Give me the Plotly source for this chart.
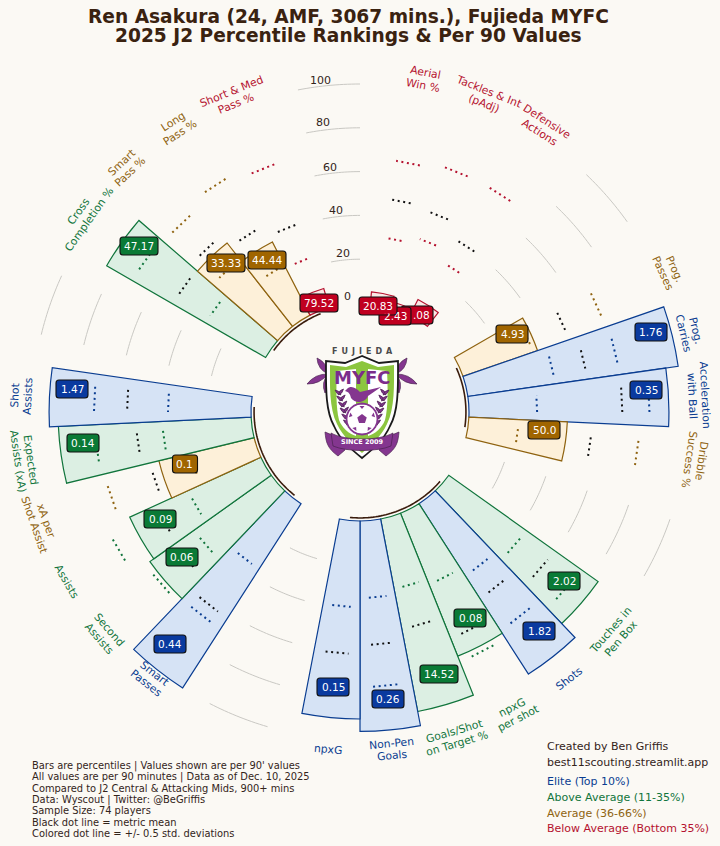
import numpy as np
import plotly.graph_objects as go

W, H = 720, 846
CX, CY = 360, 412
R0, PX_PER = 109.0, 2.19

PARAMS = ["Aerial\nWin %", "Tackles & Int\n(pAdj)", "Defensive\nActions",
          "Prog.\nPasses", "Prog.\nCarries", "Acceleration\nwith Ball", "Dribble\nSuccess %",
          "Touches in\nPen Box", "Shots", "npxG\nper shot", "Goals/Shot\non Target %", "Non-Pen\nGoals", "npxG",
          "Smart\nPasses", "Second\nAssists", "Assists", "xA per\nShot Assist", "Expected\nAssists (xA)", "Shot\nAssists",
          "Cross\nCompletion %", "Smart\nPass %", "Long\nPass %", "Short & Med\nPass %"]
GROUP_SIZES = [3, 4, 6, 6, 4]
TIERS = ["below", "below", "below",
         "avg", "elite", "elite", "avg",
         "above", "elite", "above", "above", "elite", "elite",
         "elite", "above", "above", "avg", "above", "elite",
         "above", "avg", "avg", "below"]
PERCENTILES = [5.3, 2.7, 8.0,
               36.0, 97.0, 91.3, 45.0,
               83.7, 92.5, 70.3, 89.5, 96.1, 90.4,
               100.0, 68.0, 65.8, 44.7, 88.1, 92.2,
               83.8, 48.4, 37.6, 9.0]
VALUE_LABELS = ["20.83", "2.43", ".08",
                "4.93", "1.76", "0.35", "50.0",
                "2.02", "1.82", "0.08", "14.52", "0.26", "0.15",
                "0.44", "0.06", "0.09", "0.1", "0.14", "1.47",
                "47.17", "33.33", "44.44", "79.52"]
DOT_UPPER = [66.1, 68.5, 68.5,
             68.8, 69.9, 82.4, 78.1,
             74.0, 68.7, 73.0, 75.2, 75.8, 76.3,
             67.9, 70.3, 77.2, 70.3, 71.6, 71.7,
             70.3, 68.8, 73.1, 69.9]
DOT_MEAN = [48.3, 46.9, 40.2,
            51.1, 55.0, 70.0, 56.3,
            59.3, 51.4, 61.6, 51.1, 56.6, 60.7,
            62.1, 54.2, 52.8, 48.9, 52.6, 56.6,
            48.9, 52.5, 45.9, 40.6]
DOT_LOWER = [30.6, 33.8, 28.3,
             33.8, 40.2, 31.1, 22.8,
             43.4, 39.1, 35.0, 32.4, 35.1, 39.3,
             35.4, 43.2, 36.5, 30.0, 40.6, 37.9,
             31.5, 39.0, 25.6, 24.2]
RING_VALUES = [0, 20, 40, 60, 80, 100]

FOOTER = ["Bars are percentiles | Values shown are per 90' values",
          "All values are per 90 minutes | Data as of Dec. 10, 2025",
          "Compared to J2 Central & Attacking Mids, 900+ mins",
          "Data: Wyscout | Twitter: @BeGriffis",
          "Sample Size: 74 players",
          "Black dot line = metric mean",
          "Colored dot line = +/- 0.5 std. deviations"]
CREDIT = ["Created by Ben Griffis", "best11scouting.streamlit.app"]
LEGEND = [("Elite (Top 10%)", "elite"), ("Above Average (11-35%)", "above"),
          ("Average (36-66%)", "avg"), ("Below Average (Bottom 35%)", "below")]
TITLE = ["Ren Asakura (24, AMF, 3067 mins.), Fujieda MYFC", "2025 J2 Percentile Rankings & Per 90 Values"]

# ---- styles / layout positions ----
FONT = "DejaVu Sans"
BG = "#fbf9f4"
TITLE_C = "#3a2210"
INK = "#33241a"
EDGE = {"elite": "#0a3d91", "above": "#11753c", "avg": "#8f6310", "below": "#b5122f"}
FILL = {"elite": "#d6e3f5", "above": "#dcefe3", "avg": "#fdf0d9", "below": "#fbe9e6"}
BADGE = {"elite": "#0a3a9f", "above": "#0a7a36", "avg": "#a06500", "below": "#c00020"}
BADGE_XY = [(378, 306), (395, 316), (417, 315),
            (512, 334), (651, 332), (646, 390), (544, 430),
            (564, 581), (539, 631), (470, 618), (439, 674), (388, 699), (333, 687),
            (170, 644), (182, 557), (160, 519), (185, 464), (83, 443), (72, 389),
            (139, 246), (226, 263), (267, 260), (319, 303)]
RING_LABEL_XY = [(347, 296), (343, 253), (336, 210), (330, 167), (323, 123), (320, 81)]

STEP = 360 / 33
slots, k = [], 1
gap_centres = []
spans = []
for g in GROUP_SIZES:
    slots += list(range(k, k + g))
    spans.append((k * STEP, (k + g - 1) * STEP))
    k += g
    gap_centres.append((k + 0.5) * STEP)
    k += 2
theta = [s * STEP for s in slots]


def px(x, y):
    return x / W, 1 - y / H


def polar_px(r_px, th):
    a = np.radians(th)
    return CX + r_px * np.sin(a), CY - r_px * np.cos(a)


fig = go.Figure()
sub = dict(showlegend=False, hoverinfo="skip")

# grid arcs in gaps
for c in gap_centres:
    t = np.linspace(c - STEP / 2, c + STEP / 2, 16)
    for v in RING_VALUES[1:]:
        fig.add_trace(go.Scatterpolar(r=[v] * len(t), theta=t, mode="lines",
                                      line=dict(color="#c9c8c3", width=1), **sub))
# bars
fig.add_trace(go.Barpolar(r=PERCENTILES, theta=theta, width=[STEP] * len(theta), base=0,
                          marker=dict(color=[FILL[t] for t in TIERS],
                                      line=dict(color=[EDGE[t] for t in TIERS], width=1.2)),
                          **sub))
# inner dark arcs
for a, b in spans:
    t = np.linspace(a, b, 40)
    fig.add_trace(go.Scatterpolar(r=[-1.4] * len(t), theta=t, mode="lines",
                                  line=dict(color="#3a1c0c", width=1.6), **sub))
# dotted reference lines
for i, c in enumerate(theta):
    col = EDGE[TIERS[i]]
    for vals, colour in ((DOT_UPPER, col), (DOT_MEAN, "#111111"), (DOT_LOWER, col)):
        fig.add_trace(go.Scatterpolar(r=[vals[i], vals[i]], theta=[c + 2.73, c - 2.73], mode="lines",
                                      line=dict(color=colour, width=2, dash="2px,3.6px"), **sub))

ann = []
shapes = []


def text(x, y, s, size, color, angle=0, bold=False, xanchor="center", **kw):
    fx, fy = px(x, y)
    ann.append(dict(x=fx, y=fy, xref="paper", yref="paper", text=s, showarrow=False, textangle=angle,
                    xanchor=xanchor, yanchor="middle",
                    font=dict(family=FONT, size=size, color=color, weight="bold" if bold else "normal"), **kw))


def path(d, fill, line=None, lw=1.0):
    """d: list of (cmd, pts...) in pixel coords"""
    out = []
    for seg in d:
        cmd, pts = seg[0], seg[1:]
        out.append(cmd + " ".join("%.5f,%.5f" % px(*p) for p in pts))
    shapes.append(dict(type="path", xref="paper", yref="paper", layer="above",
                       path=" ".join(out) + " Z", fillcolor=fill,
                       line=dict(color=line or fill, width=lw if line else 0)))


# crest (drawn under the badges)
PUR = "#84368f"
GRN = "#8cc63f"
DK = "#4b2250"


def lobe(base, tip, bulge, m=lambda x: x):
    bx, by = base
    tx, ty = tip
    nx, ny = -(ty - by), tx - bx
    mx, my = (bx + tx) / 2, (by + ty) / 2
    path([("M", (m(bx), by)), ("Q", (m(mx + nx * bulge), my + ny * bulge), (m(tx), ty)),
          ("Q", (m(mx - nx * bulge), my - ny * bulge), (m(bx), by))], PUR, DK, 0.7)


for s in (1, -1):
    X = lambda x, s=s: 362 + s * (x - 362)
    lobe((328, 374), (317, 358), 0.3, X)
    lobe((328, 374), (307, 384), 0.25, X)
    lobe((328, 374), (325, 393), 0.3, X)
    # ribbon tails
    path([("M", (X(337), 437)), ("L", (X(325), 432)), ("C", (X(326), 442), (X(327), 448), (X(338), 456)),
          ("L", (X(345), 450))], PUR, DK, 0.7)
shield = [("M", (362, 356)), ("L", (345, 363)), ("L", (326, 361)),
          ("C", (326, 385), (325, 410), (334, 426)), ("C", (340, 440), (352, 450), (362, 458)),
          ("C", (372, 450), (384, 440), (390, 426)), ("C", (399, 410), (398, 385), (398, 361)),
          ("L", (379, 363))]
path(shield, "#ffffff", "#1a1a1a", 1.8)
inner = [("M", (362, 361)), ("L", (346, 367)), ("L", (330, 365)),
         ("C", (330, 385), (329, 408), (337, 424)), ("C", (343, 437), (354, 446), (362, 453)),
         ("C", (370, 446), (381, 437), (387, 424)), ("C", (395, 408), (394, 385), (394, 365)),
         ("L", (378, 367))]
path(inner, GRN)
for sgn in (1, -1):
    Xs = lambda x, s=sgn: 362 + s * (x - 362)
    path([("M", (Xs(337), 371)), ("L", (Xs(356), 369)), ("L", (Xs(356), 436)),
          ("C", (Xs(349), 434), (Xs(342), 428), (Xs(339), 420)), ("C", (Xs(336), 408), (Xs(336), 390), (Xs(337), 371))],
         "#ffffff")
    for yy in (392, 398, 404, 410, 416, 422):
        xx = 338 + (yy - 392) * 0.28
        lobe((xx, yy + 3), (xx + 5.5, yy - 3), 0.33, Xs)
        lobe((xx + 3, yy + 3), (xx - 3, yy - 2), 0.33, Xs)
# bird
path([("M", (347, 389)), ("C", (351, 385), (356, 388), (360, 392)), ("L", (381, 387)), ("L", (368, 396)),
      ("C", (366, 402), (356, 405), (351, 398)), ("C", (350, 394), (349, 392), (345, 391))], PUR)
t_ball = np.linspace(0, 2 * np.pi, 25)
path([("M", (362 + 15.5, 419))] + [("L", (362 + 15.5 * np.cos(a), 419 + 15.5 * np.sin(a))) for a in t_ball[1:]],
     "#ffffff", PUR, 1.8)
path([("M", (362, 414))] + [("L", (362 + 5 * np.sin(a), 419 - 5 * np.cos(a))) for a in np.radians([72, 144, 216, 288])],
     PUR)
for a in np.radians([0, 72, 144, 216, 288]):
    bx, by = 362 + 13 * np.sin(a), 419 - 13 * np.cos(a)
    path([("M", (bx - 2.5 * np.cos(a), by - 2.5 * np.sin(a))), ("L", (bx + 2.5 * np.cos(a), by + 2.5 * np.sin(a))),
          ("L", (362 + 10 * np.sin(a), 419 - 10 * np.cos(a)))], PUR)
path([("M", (331, 433)), ("C", (345, 441), (379, 441), (393, 433)), ("L", (391, 446)),
      ("C", (377, 452), (347, 452), (333, 446))], PUR, DK, 0.7)
text(362, 351, "F\u2002U\u2002J\u2002I\u2002E\u2002D\u2002A", 8, "#4a4a4a", bold=True)
text(362, 377, "MYFC", 18, "#7b2d8b", bold=True)
text(362, 442, "SINCE 2009", 6.5, "#ffffff", bold=True)

# axis labels: each line is placed on its own so the line pitch matches the source
for i, c in enumerate(theta):
    x, y = polar_px(339, c)
    ang = c if c < 100 else (c - 180 if c < 270 else c - 360)
    lines = PARAMS[i].split("\n")
    a = np.radians(ang)
    for j, ln in enumerate(lines):
        off = (j - (len(lines) - 1) / 2) * 12.6
        text(x - off * np.sin(a), y + off * np.cos(a), ln, 10.8, EDGE[TIERS[i]], angle=ang)

for v, (x, y) in zip(RING_VALUES, RING_LABEL_XY):
    text(x, y, str(v), 11, INK)

# value badges: later index draws first so the first few overlap as in the source
for i in range(len(theta) - 1, -1, -1):
    x, y = BADGE_XY[i]
    s = VALUE_LABELS[i]
    bw = {2: 25, 3: 25, 4: 32, 5: 38}.get(len(s), 32)
    if s == ".08":
        bw = 32
    bh, rad = 18, 3
    x0, x1, y0, y1 = x - bw / 2, x + bw / 2, y - bh / 2, y + bh / 2
    path([("M", (x0 + rad, y0)), ("L", (x1 - rad, y0)), ("Q", (x1, y0), (x1, y0 + rad)),
          ("L", (x1, y1 - rad)), ("Q", (x1, y1), (x1 - rad, y1)), ("L", (x0 + rad, y1)),
          ("Q", (x0, y1), (x0, y1 - rad)), ("L", (x0, y0 + rad)), ("Q", (x0, y0), (x0 + rad, y0))],
         BADGE[TIERS[i]], "#111111", 1.1)
    kw = {}
    if i == 0:
        kw = dict(bgcolor=BADGE["below"], width=bw - 4, height=bh - 4, borderpad=0)
    text(x + (4 if s == ".08" else 0), y, s, 10.5, "#ffffff", **kw)

text(348, 16, TITLE[0], 18.6, TITLE_C, bold=True)
text(348, 36, TITLE[1], 18.6, TITLE_C, bold=True)

for j, line in enumerate(FOOTER):
    text(30, 766 + j * 11.2, line, 9.9, INK, xanchor="left")
for line, yy in zip(CREDIT, (746, 762)):
    text(545, yy, line, 11, INK, xanchor="left")
for (line, tier), yy in zip(LEGEND, (781, 797, 813, 828)):
    text(545, yy, line, 11, EDGE[tier], xanchor="left")

R_OUT = 360
fig.update_layout(
    width=W, height=H, autosize=False, margin=dict(l=0, r=0, t=0, b=0),
    paper_bgcolor=BG, plot_bgcolor=BG, showlegend=False,
    polar=dict(
        domain=dict(x=[0, 1], y=[(H - CY - R_OUT) / H, (H - CY + R_OUT) / H]),
        bgcolor="rgba(0,0,0,0)",
        barmode="overlay",
        radialaxis=dict(visible=False, range=[-R0 / PX_PER, (R_OUT - R0) / PX_PER], showgrid=False),
        angularaxis=dict(visible=False, direction="clockwise", rotation=90, showgrid=False),
    ),
    annotations=ann, shapes=shapes,
)
fig.write_html("out.html", config=dict(displayModeBar=False),
               post_script="document.body.style.margin='0';document.body.style.background='%s';document.documentElement.style.overflow='hidden';" % BG)
